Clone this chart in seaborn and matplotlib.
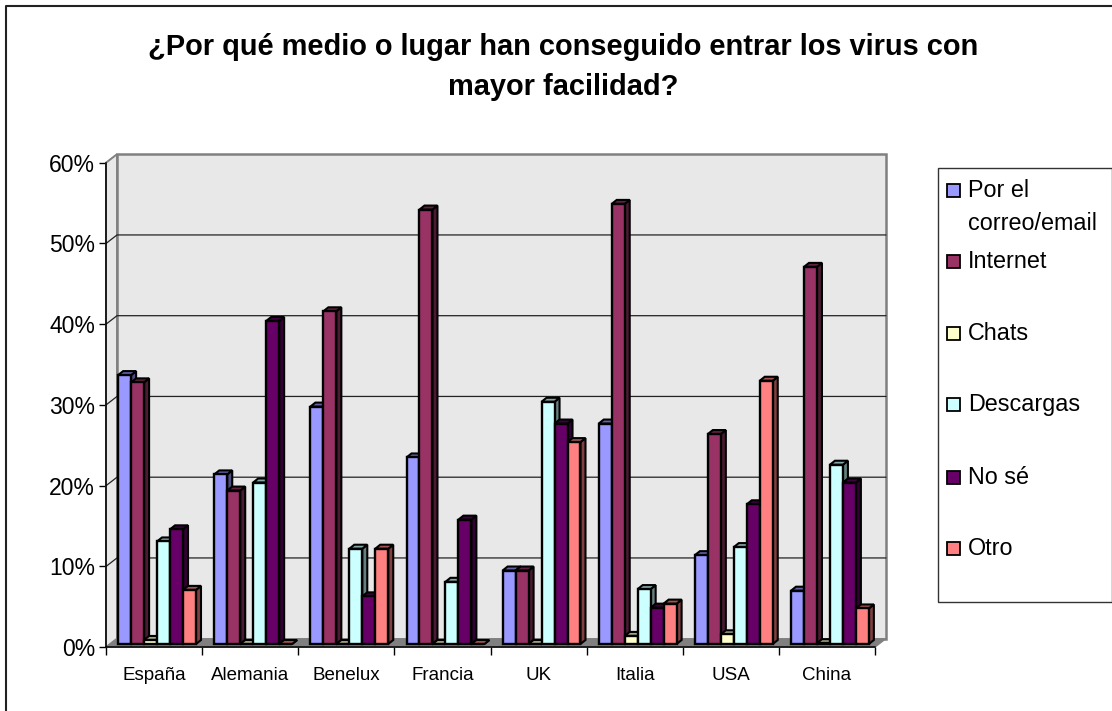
import matplotlib
matplotlib.use("Agg")
import matplotlib.pyplot as plt
import numpy as np
import pandas as pd
import seaborn as sns
from matplotlib.colors import to_rgb
from matplotlib.lines import Line2D
from matplotlib.patches import Polygon, Rectangle
from matplotlib.transforms import Affine2D

# Data
countries = ["España", "Alemania", "Benelux", "Francia", "UK", "Italia", "USA", "China"]
series = ["Por el\ncorreo/email", "Internet", "Chats", "Descargas", "No sé", "Otro"]
colors = ["#9999FF", "#993366", "#FFFFCC", "#CCFFFF", "#660066", "#FF8080"]

por_el_correo = [33.3, 21.0, 29.4, 23.1, 9.1, 27.3, 11.0, 6.6]
internet = [32.4, 19.0, 41.2, 53.8, 9.1, 54.5, 26.0, 46.7]
chats = [0.5, 0.0, 0.0, 0.0, 0.0, 1.0, 1.2, 0.1]
descargas = [12.7, 20.0, 11.8, 7.7, 30.0, 6.8, 12.0, 22.2]
no_se = [14.2, 40.0, 5.9, 15.4, 27.3, 4.5, 17.3, 20.0]
otro = [6.7, 0.0, 11.8, 0.0, 25.0, 5.0, 32.6, 4.4]
values = [por_el_correo, internet, chats, descargas, no_se, otro]

y_ticks = [0, 10, 20, 30, 40, 50, 60]

W, H = 1112, 711
FONT = "Liberation Sans"

# 3D look, all in pixels
WALL_DX, WALL_DY = 11, 8.5
BAR_OFF_X, BAR_OFF_Y = 3, 3.2
BAR_DX, BAR_DY = 5, 4

rows = []
for name, vals in zip(series, values):
    for country, v in zip(countries, vals):
        rows.append({"country": country, "serie": name, "value": v})
df = pd.DataFrame(rows)

sns.set_theme(style="white")
plt.rcParams["font.family"] = FONT

fig = plt.figure(figsize=(W / 100, H / 100), dpi=100, facecolor="white")


def px_box(x0, y_top, x1, y_bottom):
    return [x0 / W, 1 - y_bottom / H, (x1 - x0) / W, (y_bottom - y_top) / H]


ax = fig.add_axes(px_box(106, 162.7, 875, 647.2))
ax.set_facecolor("none")

sns.barplot(
    data=df, x="country", y="value", hue="serie", hue_order=series,
    order=countries, palette=colors, width=0.81, gap=0, saturation=1,
    edgecolor="black", linewidth=1.7, legend=False, ax=ax, zorder=5,
)
ax.set_xlim(-0.5, 7.5)
ax.set_ylim(0, 60)
ax.set_xlabel("")
ax.set_ylabel("")
fig.canvas.draw()

to_px = ax.transData.transform
identity = Affine2D()


def add_poly(points, face, edge="black", lw=1.5, z=1):
    ax.add_patch(Polygon(points, closed=True, facecolor=face, edgecolor=edge,
                         linewidth=lw, transform=identity, clip_on=False, zorder=z,
                         joinstyle="miter"))


# walls and floor
x_left, y_bottom = to_px((-0.5, 0))
x_right, y_top = to_px((7.5, 60))
wall = "#E8E8E8"
add_poly([(x_left + WALL_DX, y_bottom + WALL_DY), (x_right + WALL_DX, y_bottom + WALL_DY),
          (x_right + WALL_DX, y_top + WALL_DY), (x_left + WALL_DX, y_top + WALL_DY)],
         wall, edge="#808080", lw=1.8)
add_poly([(x_left, y_bottom), (x_left + WALL_DX, y_bottom + WALL_DY),
          (x_left + WALL_DX, y_top + WALL_DY), (x_left, y_top)], wall, edge="#808080", lw=1.4)
add_poly([(x_left, y_bottom), (x_right, y_bottom), (x_right + WALL_DX, y_bottom + WALL_DY),
          (x_left + WALL_DX, y_bottom + WALL_DY)], "#808080", edge="#808080", lw=0.8, z=1.5)

# gridlines on back wall, with the short diagonal on the side wall
for t in y_ticks[1:-1]:
    _, y = to_px((0, t))
    ax.add_line(Line2D([x_left, x_left + WALL_DX, x_right + WALL_DX],
                       [y, y + WALL_DY, y + WALL_DY], color="#222222", lw=0.9,
                       transform=identity, clip_on=False, zorder=2))

# move bars into the middle of the floor and give them a side and a top
bars = sorted([p for p in ax.patches if isinstance(p, Rectangle)], key=lambda p: p.get_x())
shift = Affine2D().translate(BAR_OFF_X, BAR_OFF_Y)
for i, bar in enumerate(bars):
    z = 5 + i * 0.01
    x0, x1 = bar.get_x(), bar.get_x() + bar.get_width()
    (px0, py0), (px1, py1) = to_px((x0, 0)), to_px((x1, bar.get_height()))
    px0, px1 = px0 + BAR_OFF_X, px1 + BAR_OFF_X
    py0, py1 = py0 + BAR_OFF_Y, py1 + BAR_OFF_Y
    rgb = np.array(to_rgb(bar.get_facecolor()))
    add_poly([(px1, py0), (px1 + BAR_DX, py0 + BAR_DY), (px1 + BAR_DX, py1 + BAR_DY), (px1, py1)],
             tuple(rgb * 0.5), z=z)
    add_poly([(px0, py1), (px1, py1), (px1 + BAR_DX, py1 + BAR_DY), (px0 + BAR_DX, py1 + BAR_DY)],
             tuple(rgb * 0.65), z=z)
    bar.set_transform(ax.transData + shift)
    bar.set_clip_on(False)
    bar.set_zorder(z + 0.005)

# axes
sns.despine(ax=ax, top=True, right=True)
for side in ["left", "bottom"]:
    ax.spines[side].set_color("black")
    ax.spines[side].set_linewidth(1.1)
    ax.spines[side].set_zorder(4)
ax.set_yticks(y_ticks)
ax.set_yticklabels([f"{t}%" for t in y_ticks], fontsize=16.5, color="black")
ax.set_xticks(range(len(countries)))
ax.set_xticklabels(countries, fontsize=13.5, color="black")
ax.set_xticks(np.arange(-0.5, 8.0, 1), minor=True)
ax.tick_params(axis="y", which="major", left=True, length=5, width=1.0, pad=3, color="black")
ax.tick_params(axis="x", which="major", bottom=False, pad=8)
ax.tick_params(axis="x", which="minor", bottom=True, length=6, width=1.0, color="black")

# title
fig.text(563.5 / W, 1 - 67 / H, "¿Por qué medio o lugar han conseguido entrar los virus con\nmayor facilidad?",
         ha="center", va="center", fontsize=20.9, fontweight="bold", linespacing=1.58, color="black")

# chart frame
fig.add_artist(Line2D([6 / W, 6 / W, 1], [0, 1 - 5.5 / H, 1 - 5.5 / H], color="#222222", lw=1.5))

# legend box, spacing of the original is uneven so done by hand
fig.add_artist(Rectangle((938 / W, 1 - 602 / H), 173.5 / W, 434 / H, transform=fig.transFigure,
                         facecolor="white", edgecolor="#333333", linewidth=1.0))
legend_y = [190, 261, 333, 404, 477, 548]
for name, color, ly in zip(series, colors, legend_y):
    fig.add_artist(Rectangle((947 / W, 1 - (ly + 7) / H), 13 / W, 13 / H, transform=fig.transFigure,
                             facecolor=color, edgecolor="black", linewidth=1.3))
    fig.text(968 / W, 1 - (ly - 11) / H, name, ha="left", va="top", fontsize=16.8,
             linespacing=1.55, color="black")

fig.savefig("out.png", dpi=100, facecolor="white")
